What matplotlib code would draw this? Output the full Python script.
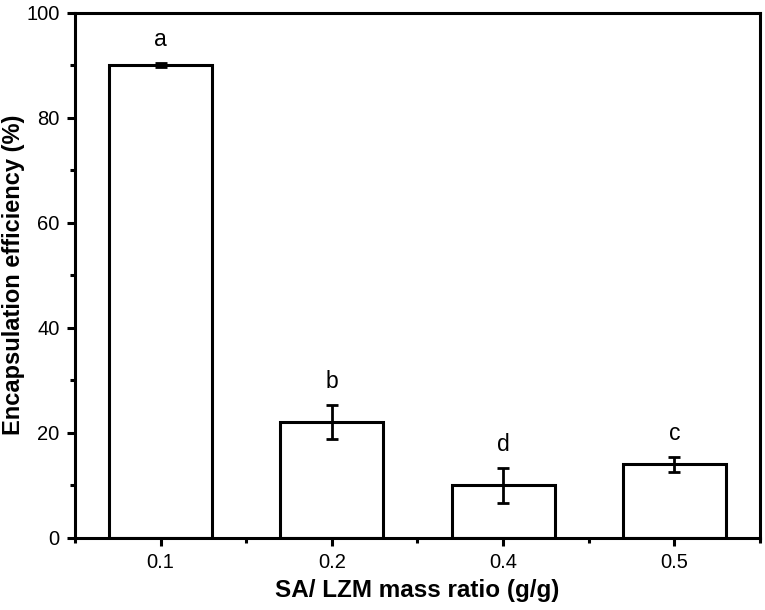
import matplotlib
matplotlib.use("Agg")
import matplotlib.pyplot as plt
from matplotlib.ticker import MultipleLocator, FixedLocator

plt.rcParams['font.family'] = ['Liberation Sans', 'DejaVu Sans']

categories = ['0.1', '0.2', '0.4', '0.5']
values = [90.0, 22.0, 10.0, 14.0]
errors = [0.3, 3.2, 3.3, 1.4]
letters = ['a', 'b', 'd', 'c']

fig = plt.figure(figsize=(7.65, 6.1), dpi=100)
ax = fig.add_axes([0.098, 0.1185, 0.8955, 0.861])

x = list(range(len(categories)))
ax.bar(x, values, width=0.6, color='white', edgecolor='black', linewidth=2.2, zorder=2)
ax.errorbar(x, values, yerr=errors, fmt='none', ecolor='black', elinewidth=2.0,
            capsize=4, capthick=2.0, zorder=3)
for xi, v, e, l in zip(x, values, errors, letters):
    ax.text(xi, v + e + 4.5, l, ha='center', va='center', fontsize=16.5)

ax.set_xlim(-0.5, 3.5)
ax.set_ylim(0, 100)
ax.set_xticks(x)
ax.set_xticklabels(categories)
ax.xaxis.set_minor_locator(FixedLocator([-0.5, 0.5, 1.5, 2.5, 3.5]))
ax.yaxis.set_major_locator(MultipleLocator(20))
ax.yaxis.set_minor_locator(MultipleLocator(10))

for s in ax.spines.values():
    s.set_linewidth(2.2)
ax.tick_params(which='major', direction='out', length=6, width=2.2, labelsize=14.5, pad=5)
ax.tick_params(which='minor', direction='out', length=3.5, width=2.2)

ax.set_xlabel('SA/ LZM mass ratio (g/g)', fontsize=17.5, fontweight='bold', labelpad=5)
ax.set_ylabel('Encapsulation efficiency (%)', fontsize=17, fontweight='bold')
ax.yaxis.set_label_coords(-0.073, 0.5)

fig.savefig('out.png', dpi=100)
